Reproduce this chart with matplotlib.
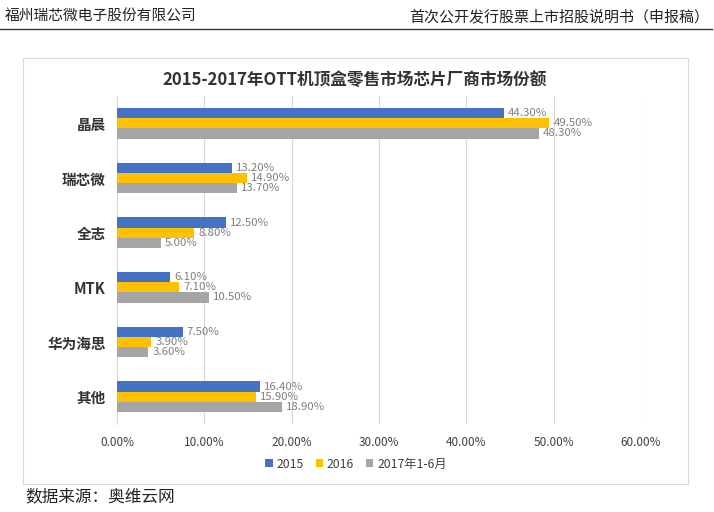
import numpy as np
import matplotlib.pyplot as plt
from matplotlib.patches import Rectangle

plt.rcParams['font.family'] = ['Noto Sans CJK SC', 'DejaVu Sans']

companies = ['晶晨', '瑞芯微', '全志', 'MTK', '华为海思', '其他']
series_names = ['2015', '2016', '2017年1-6月']
share_2015 = [44.3, 13.2, 12.5, 6.1, 7.5, 16.4]
share_2016 = [49.5, 14.9, 8.8, 7.1, 3.9, 15.9]
share_2017h1 = [48.3, 13.7, 5.0, 10.5, 3.6, 18.9]
x_ticks = [0, 10, 20, 30, 40, 50, 60]

colors = ['#4472C4', '#FFC000', '#A5A5A5']
W, H = 714, 512

fig = plt.figure(figsize=(7.14, 5.12), dpi=100)

# page header
fig.text(5 / W, 1 - 17 / H, '福州瑞芯微电子股份有限公司', fontsize=10.6, va='center', color='#222222')
fig.text(709 / W, 1 - 17 / H, '首次公开发行股票上市招股说明书（申报稿）', fontsize=10.8,
         va='center', ha='right', color='#222222')
fig.add_artist(plt.Line2D([0, 712 / W], [1 - 29 / H, 1 - 29 / H], color='#333333', lw=1.0))

# chart frame
fig.add_artist(Rectangle((23 / W, 1 - 484 / H), (688 - 23) / W, (484 - 58) / H,
                         transform=fig.transFigure, fill=False, ec='#d9d9d9', lw=0.8))
fig.text(355 / W, 1 - 80 / H, '2015-2017年OTT机顶盒零售市场芯片厂商市场份额',
         fontsize=12, fontweight='bold', ha='center', va='center', color='#333333')

ax = fig.add_axes([117 / W, 1 - 424 / H, (641 - 117) / W, (424 - 96) / H])

y = np.arange(len(companies))
h = 0.185
all_series = [share_2015, share_2016, share_2017h1]
for i, (vals, name, c) in enumerate(zip(all_series, series_names, colors)):
    pos = y + (i - 1) * h
    ax.barh(pos, vals, height=h, color=c, label=name, zorder=3)
    for p, v in zip(pos, vals):
        ax.annotate(f'{v:.2f}%', (v, p), xytext=(3, 0), textcoords='offset points',
                    va='center', ha='left', fontsize=8.2, color='#7f7f7f')

ax.set_ylim(len(companies) - 0.5, -0.5)
ax.set_xlim(0, 60)
ax.set_xticks(x_ticks)
ax.set_xticklabels([f'{t:.2f}%' for t in x_ticks], fontsize=8.5, color='#404040')
ax.set_yticks(y)
ax.set_yticklabels(companies, fontsize=10.5, fontweight='bold', color='#333333')
ax.tick_params(axis='both', length=0, pad=8)
ax.tick_params(axis='x', pad=9)
ax.grid(axis='x', color='#d9d9d9', lw=0.8, zorder=0)
for s in ['top', 'right', 'bottom']:
    ax.spines[s].set_visible(False)
ax.spines['left'].set_color('#d9d9d9')

ax.legend(loc='center', bbox_to_anchor=(356 / W, 1 - 464 / H), bbox_transform=fig.transFigure,
          ncol=3, frameon=False, fontsize=8.8, handlelength=0.6, handleheight=0.6,
          handletextpad=0.3, columnspacing=1.0, labelcolor='#404040')

fig.text(25 / W, 1 - 497 / H, '数据来源：奥维云网', fontsize=12, va='center', color='#222222')

fig.savefig('out.png', dpi=100)
